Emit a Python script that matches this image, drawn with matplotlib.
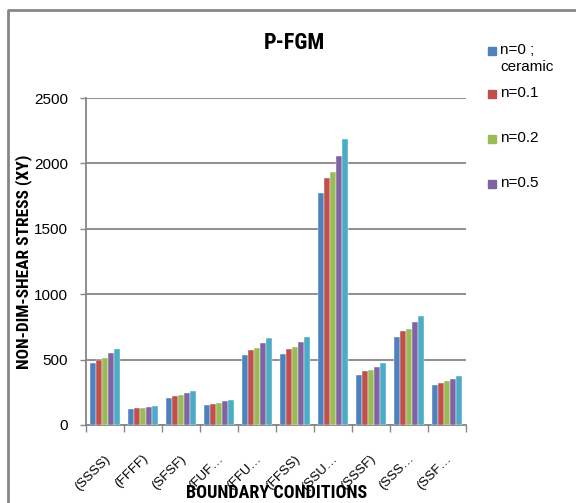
import numpy as np
import matplotlib.pyplot as plt
import matplotlib.transforms as mtransforms
from matplotlib.lines import Line2D
from matplotlib.patches import Rectangle

# Boundary conditions along the x axis
conditions = ["(SSSS)", "(FFFF)", "(SFSF)", "(FUF…", "(FFU…",
              "(FFSS)", "(SSU…", "(SSSF)", "(SSS…", "(SSF…"]

# Non-dimensional shear stress (XY) for each power-law index n
n_0 = [474, 123, 207, 154, 538, 543, 1774, 386, 673, 305]
n_01 = [500, 131, 222, 164, 576, 581, 1887, 411, 721, 323]
n_02 = [512, 131, 227, 169, 586, 593, 1935, 421, 736, 333]
n_05 = [548, 139, 245, 184, 624, 634, 2058, 447, 788, 353]
n_1 = [580, 149, 260, 192, 664, 669, 2186, 474, 836, 374]

series = [n_0, n_01, n_02, n_05, n_1]
series_names = ["n=0 ;\nceramic", "n=0.1", "n=0.2", "n=0.5", "n=1"]
colors = ["#4F81BD", "#C0504D", "#9BBB59", "#8064A2", "#4BACC6"]

yticks = [0, 500, 1000, 1500, 2000, 2500]

W, H = 576, 503
plt.rcParams['font.family'] = ['Liberation Sans', 'DejaVu Sans']
bold_font = ['Roboto Condensed', 'Liberation Sans', 'DejaVu Sans']
grey = "#868686"

fig = plt.figure(figsize=(W / 100, H / 100), dpi=100)
ax = fig.add_axes([86 / W, 1 - 425 / H, 380 / W, 327 / H])

# Clustered bars
x = np.arange(len(conditions))
bar_w = 0.16
for i, (vals, col) in enumerate(zip(series, colors)):
    ax.bar(x + (i - 2) * bar_w, vals, width=bar_w, color=col,
           edgecolor="white", linewidth=0.3, zorder=3)

ax.set_xlim(-0.5, len(conditions) - 0.5)
ax.set_ylim(0, 2500)
ax.set_yticks(yticks)
ax.grid(axis="y", color=grey, linewidth=1.3, zorder=0)

for side in ["top", "right"]:
    ax.spines[side].set_visible(False)
for side in ["left", "bottom"]:
    ax.spines[side].set_color(grey)
    ax.spines[side].set_linewidth(1.3)

ax.tick_params(axis="y", direction="out", length=4, color=grey, width=1,
               pad=9, labelsize=11)

# Category labels in the middle, tick marks between categories
ax.set_xticks(x)
ax.set_xticklabels(conditions, fontsize=9.5)
ax.set_xticks(np.arange(-0.5, len(conditions)), minor=True)
ax.tick_params(axis="x", which="major", length=0, pad=23)
ax.tick_params(axis="x", which="minor", direction="out", length=5,
               color=grey, width=1)
shift = mtransforms.ScaledTranslation(3 / 100, 0, fig.dpi_scale_trans)
for lab in ax.get_xticklabels():
    lab.set_rotation(45)
    lab.set_rotation_mode("anchor")
    lab.set_ha("right")
    lab.set_va("center")
    lab.set_transform(lab.get_transform() + shift)

# Titles
fig.text(294 / W, 1 - 43 / H, "P-FGM", ha="center", va="center",
         fontsize=16, fontweight="bold", family=bold_font)
fig.text(277 / W, 1 - 493 / H, "BOUNDARY CONDITIONS", ha="center",
         va="center", fontsize=13, fontweight="bold", family=bold_font)
fig.text(24 / W, 1 - 262 / H, "NON-DIM-SHEAR STRESS (XY)", ha="center",
         va="center", rotation=90, fontsize=12.5, fontweight="bold",
         family=bold_font)

# Legend on the right (only four entries fit)
legend_y = [51, 94, 139, 184]
for name, col, yc in zip(series_names[:4], colors[:4], legend_y):
    fig.patches.append(Rectangle((488 / W, 1 - (yc + 4) / H), 8 / W, 8 / H,
                                 transform=fig.transFigure, color=col))
    fig.text(500 / W, 1 - (yc - 8) / H, name, ha="left", va="top",
             fontsize=11, linespacing=1.3)

# Chart area border
fig.lines.append(Line2D([8 / W, 8 / W, 1.01], [-0.01, 1 - 10 / H, 1 - 10 / H],
                        transform=fig.transFigure, color=grey, linewidth=2))

fig.savefig("out.png", dpi=100)
